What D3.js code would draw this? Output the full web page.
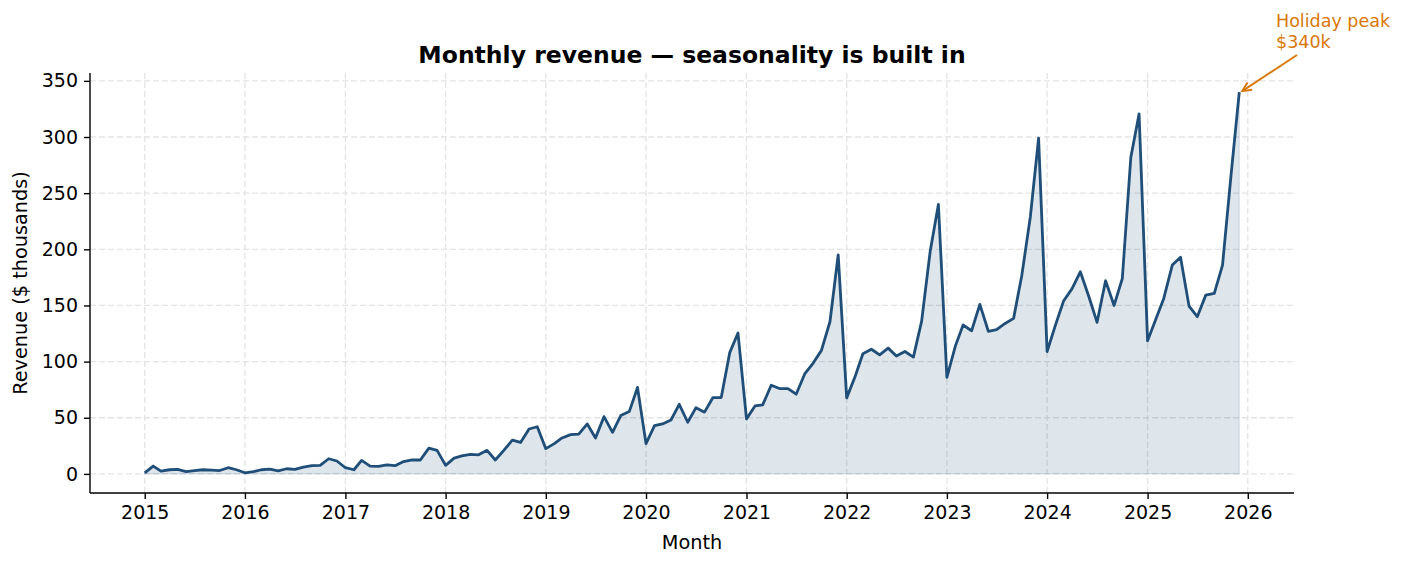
<!DOCTYPE html>
<html>
<head>
<meta charset="utf-8">
<script src="https://cdn.jsdelivr.net/npm/d3@7/dist/d3.min.js"></script>
<style>
  html, body { margin: 0; padding: 0; background: #ffffff; }
  svg { display: block; font-family: "DejaVu Sans", sans-serif; }
</style>
</head>
<body>
<svg id="chart" width="1406" height="564"></svg>
<script>
// ---- data ----
const startYear = 2015;
const endYear = 2025;
const rev2015 = [1, 7, 2.5, 3.7, 4, 2, 3, 3.7, 3.4, 3, 5.5, 3.7];
const rev2016 = [1, 2, 3.7, 4.3, 2.8, 4.6, 4, 6, 7.3, 7.6, 13.5, 11.5];
const rev2017 = [5.5, 3.7, 12, 7, 6.7, 8, 7.3, 11, 12.4, 12.4, 23, 21];
const rev2018 = [7.6, 14, 16, 17.4, 17, 21, 12.4, 21, 30, 28, 40, 42];
const rev2019 = [22.5, 27, 32, 35, 35.5, 44.5, 32, 51, 37, 52, 55.5, 77];
const rev2020 = [27, 43, 44.5, 48, 62, 46, 59, 55, 68, 68, 108, 125.5];
const rev2021 = [49, 60.5, 61.5, 79, 76, 76, 71, 89, 98.7, 110, 135.5, 195];
const rev2022 = [67.7, 87, 107, 111, 106, 112, 105, 109, 104, 136, 198, 240];
const rev2023 = [86, 114, 132.6, 127.5, 151, 127, 128.4, 134, 138.5, 177, 229, 299];
const rev2024 = [109, 133, 154, 165, 180, 158, 135, 172, 150, 174, 282, 320.5];
const rev2025 = [118.5, 138.4, 156.3, 186, 193, 149.4, 140, 159.2, 160.7, 186, 266, 340];
const yTicks = [0, 50, 100, 150, 200, 250, 300, 350];
const xTickYears = [2015, 2016, 2017, 2018, 2019, 2020, 2021, 2022, 2023, 2024, 2025, 2026];
const titleText = "Monthly revenue — seasonality is built in";
const xLabel = "Month";
const yLabel = "Revenue ($ thousands)";
const annotText = ["Holiday peak", "$340k"];

const yearly = [rev2015, rev2016, rev2017, rev2018, rev2019, rev2020, rev2021, rev2022, rev2023, rev2024, rev2025];
const data = [];
yearly.forEach((arr, yi) => arr.forEach((v, m) => data.push({ date: new Date(startYear + yi, m, 1), value: v })));

// ---- layout ----
const W = 1406, H = 564;
const plot = { left: 90, right: 1294, top: 73, bottom: 493 };
const LINE = "#1f4e79";
const ACCENT = "#d97706";

const svg = d3.select("#chart");

const t0 = data[0].date.getTime(), t1 = data[data.length - 1].date.getTime();
const padT = (t1 - t0) * 0.05;
const x = d3.scaleTime().domain([new Date(t0 - padT), new Date(t1 + padT)]).range([plot.left, plot.right]);
const vmax = d3.max(data, d => d.value);
const padV = vmax * 0.05;
const y = d3.scaleLinear().domain([-padV, vmax + padV]).range([plot.bottom, plot.top]);

// grid
const grid = svg.append("g");
xTickYears.forEach(yr => {
  const xx = x(new Date(yr, 0, 1));
  grid.append("line").attr("x1", xx).attr("x2", xx).attr("y1", plot.top).attr("y2", plot.bottom)
    .attr("stroke", "#e3e3e3").attr("stroke-width", 1.3).attr("stroke-dasharray", "6,3");
});
yTicks.forEach(v => {
  grid.append("line").attr("x1", plot.left).attr("x2", plot.right).attr("y1", y(v)).attr("y2", y(v))
    .attr("stroke", "#e3e3e3").attr("stroke-width", 1.3).attr("stroke-dasharray", "6,3");
});

// area
const area = d3.area().x(d => x(d.date)).y0(y(0)).y1(d => y(d.value));
svg.append("path").datum(data).attr("d", area)
  .attr("fill", LINE).attr("fill-opacity", 0.15)
  .attr("stroke", LINE).attr("stroke-opacity", 0.12).attr("stroke-width", 1.3);

// line
const line = d3.line().x(d => x(d.date)).y(d => y(d.value));
svg.append("path").datum(data).attr("d", line)
  .attr("fill", "none").attr("stroke", LINE).attr("stroke-width", 2.8)
  .attr("stroke-linejoin", "round").attr("stroke-linecap", "butt");

// axes
const xAxis = d3.axisBottom(x)
  .tickValues(xTickYears.map(yr => new Date(yr, 0, 1)))
  .tickFormat(d3.timeFormat("%Y")).tickSizeOuter(0).tickSize(6).tickPadding(7);
const gx = svg.append("g").attr("transform", `translate(0,${plot.bottom})`).call(xAxis);
const yAxis = d3.axisLeft(y).tickValues(yTicks).tickSizeOuter(0).tickSize(6).tickPadding(6);
const gy = svg.append("g").attr("transform", `translate(${plot.left},0)`).call(yAxis);
[gx, gy].forEach(g => {
  g.select(".domain").attr("stroke", "#000").attr("stroke-width", 1.4);
  g.selectAll(".tick line").attr("stroke", "#000").attr("stroke-width", 1.4);
  g.selectAll(".tick text").attr("fill", "#000").style("font-size", "19px").style("font-family", "DejaVu Sans");
});
gy.select(".domain").attr("d", `M0,${plot.bottom}V${plot.top}`);
gx.select(".domain").attr("d", `M${plot.left},0H${plot.right}`);

// labels
svg.append("text").attr("x", (plot.left + plot.right) / 2).attr("y", 63)
  .attr("text-anchor", "middle").style("font-size", "23.5px").style("font-weight", "bold").text(titleText);
svg.append("text").attr("x", (plot.left + plot.right) / 2).attr("y", 549)
  .attr("text-anchor", "middle").style("font-size", "19.3px").text(xLabel);
svg.append("text").attr("transform", `translate(27,${(plot.top + plot.bottom) / 2}) rotate(-90)`)
  .attr("text-anchor", "middle").style("font-size", "19.3px").text(yLabel);

// annotation
const last = data[data.length - 1];
const px = x(last.date), py = y(last.value);
const tx = 1276, ty = 27;
const at = svg.append("text").attr("x", tx).attr("y", ty).attr("fill", ACCENT).style("font-size", "17.5px");
annotText.forEach((s, i) => at.append("tspan").attr("x", tx).attr("dy", i === 0 ? 0 : 20.5).text(s));
const ax0 = 1297, ay0 = 55, ax1 = px + 3, ay1 = py - 1;
svg.append("line").attr("x1", ax0).attr("y1", ay0).attr("x2", ax1).attr("y2", ay1)
  .attr("stroke", ACCENT).attr("stroke-width", 1.9);
const ang = Math.atan2(ay1 - ay0, ax1 - ax0);
const hl = 10, ha = Math.PI / 7;
svg.append("path")
  .attr("d", `M${ax1 - hl * Math.cos(ang - ha)},${ay1 - hl * Math.sin(ang - ha)}L${ax1},${ay1}L${ax1 - hl * Math.cos(ang + ha)},${ay1 - hl * Math.sin(ang + ha)}`)
  .attr("fill", "none").attr("stroke", ACCENT).attr("stroke-width", 1.9);
</script>
</body>
</html>
